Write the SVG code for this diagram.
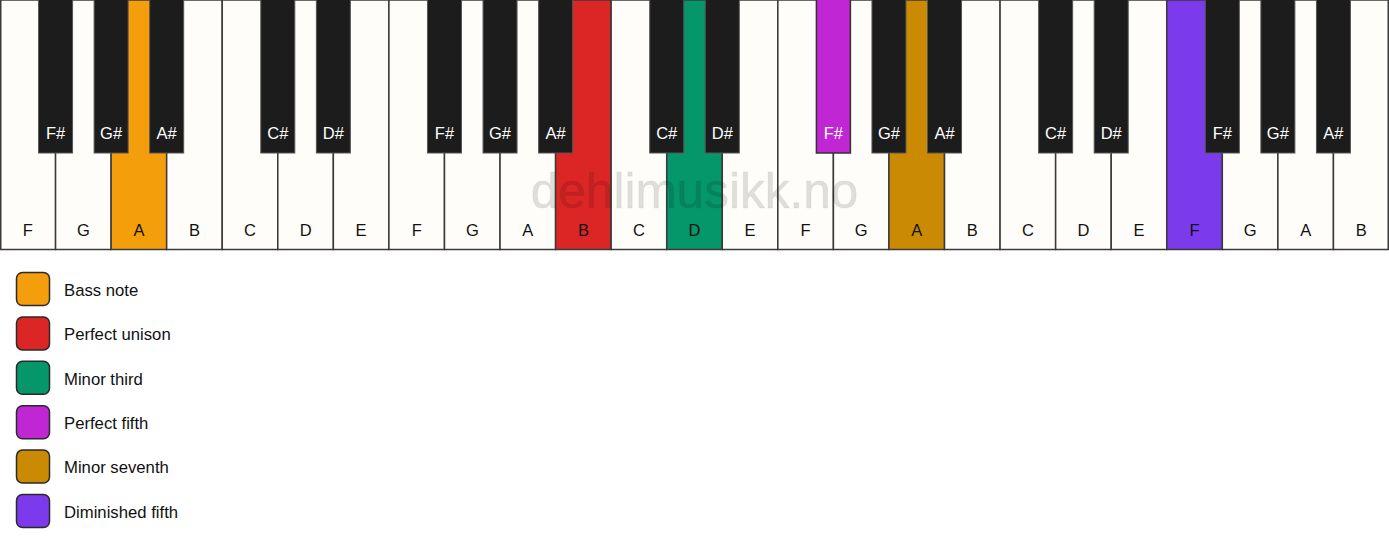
<svg xmlns="http://www.w3.org/2000/svg" width="1389" height="550" viewBox="0 0 1389 550">
<style>
.w{fill:#fffdf9;stroke:#3a3a3a;stroke-width:1.5}
.b{fill:#1c1c1c;stroke:#555;stroke-width:1}
.wl{font-family:"Liberation Sans",Arial,sans-serif;font-size:16.5px;fill:#111;text-anchor:middle}
.bl{font-family:"Liberation Sans",Arial,sans-serif;font-size:16.5px;fill:#fff;text-anchor:middle}
.lg{stroke:#2a2a2a;stroke-width:1.5}
.lt{font-family:"Liberation Sans",Arial,sans-serif;font-size:16.7px;fill:#111}
.wm{font-family:"Liberation Sans",Arial,sans-serif;font-size:49.5px;fill:#000;fill-opacity:0.12;stroke:#000;stroke-opacity:0.05;text-anchor:middle}
</style>
<rect width="1389" height="550" fill="#fff"/>
<g id="white-keys">
<g id="wk0"><rect class="w" x="0.75" y="0" width="54.81" height="249.5"/><text class="wl" x="27.8" y="236">F</text></g>
<g id="wk1"><rect class="w" x="55.56" y="0" width="55.56" height="249.5"/><text class="wl" x="83.3" y="236">G</text></g>
<g id="wk2"><rect class="w" x="111.12" y="0" width="55.56" height="249.5" style="fill:#f59e0b"/><text class="wl" x="138.9" y="236">A</text></g>
<g id="wk3"><rect class="w" x="166.68" y="0" width="55.56" height="249.5"/><text class="wl" x="194.5" y="236">B</text></g>
<g id="wk4"><rect class="w" x="222.24" y="0" width="55.56" height="249.5"/><text class="wl" x="250" y="236">C</text></g>
<g id="wk5"><rect class="w" x="277.8" y="0" width="55.56" height="249.5"/><text class="wl" x="305.6" y="236">D</text></g>
<g id="wk6"><rect class="w" x="333.36" y="0" width="55.56" height="249.5"/><text class="wl" x="361.1" y="236">E</text></g>
<g id="wk7"><rect class="w" x="388.92" y="0" width="55.56" height="249.5"/><text class="wl" x="416.7" y="236">F</text></g>
<g id="wk8"><rect class="w" x="444.48" y="0" width="55.56" height="249.5"/><text class="wl" x="472.3" y="236">G</text></g>
<g id="wk9"><rect class="w" x="500.04" y="0" width="55.56" height="249.5"/><text class="wl" x="527.8" y="236">A</text></g>
<g id="wk10"><rect class="w" x="555.6" y="0" width="55.56" height="249.5" style="fill:#dc2626"/><text class="wl" x="583.4" y="236">B</text></g>
<g id="wk11"><rect class="w" x="611.16" y="0" width="55.56" height="249.5"/><text class="wl" x="638.9" y="236">C</text></g>
<g id="wk12"><rect class="w" x="666.72" y="0" width="55.56" height="249.5" style="fill:#059669"/><text class="wl" x="694.5" y="236">D</text></g>
<g id="wk13"><rect class="w" x="722.28" y="0" width="55.56" height="249.5"/><text class="wl" x="750.1" y="236">E</text></g>
<g id="wk14"><rect class="w" x="777.84" y="0" width="55.56" height="249.5"/><text class="wl" x="805.6" y="236">F</text></g>
<g id="wk15"><rect class="w" x="833.4" y="0" width="55.56" height="249.5"/><text class="wl" x="861.2" y="236">G</text></g>
<g id="wk16"><rect class="w" x="888.96" y="0" width="55.56" height="249.5" style="fill:#ca8a04"/><text class="wl" x="916.7" y="236">A</text></g>
<g id="wk17"><rect class="w" x="944.52" y="0" width="55.56" height="249.5"/><text class="wl" x="972.3" y="236">B</text></g>
<g id="wk18"><rect class="w" x="1000.08" y="0" width="55.56" height="249.5"/><text class="wl" x="1027.9" y="236">C</text></g>
<g id="wk19"><rect class="w" x="1055.64" y="0" width="55.56" height="249.5"/><text class="wl" x="1083.4" y="236">D</text></g>
<g id="wk20"><rect class="w" x="1111.2" y="0" width="55.56" height="249.5"/><text class="wl" x="1139" y="236">E</text></g>
<g id="wk21"><rect class="w" x="1166.76" y="0" width="55.56" height="249.5" style="fill:#7c3aed"/><text class="wl" x="1194.5" y="236">F</text></g>
<g id="wk22"><rect class="w" x="1222.32" y="0" width="55.56" height="249.5"/><text class="wl" x="1250.1" y="236">G</text></g>
<g id="wk23"><rect class="w" x="1277.88" y="0" width="55.56" height="249.5"/><text class="wl" x="1305.7" y="236">A</text></g>
<g id="wk24"><rect class="w" x="1333.44" y="0" width="54.81" height="249.5"/><text class="wl" x="1361.2" y="236">B</text></g>
</g>
<text class="wm" x="694.5" y="208">dehlimusikk.no</text>
<g id="black-keys">
<g id="bk0"><rect class="b" x="38.56" y="-1" width="34" height="154"/><text class="bl" x="55.56" y="139">F#</text></g>
<g id="bk1"><rect class="b" x="94.12" y="-1" width="34" height="154"/><text class="bl" x="111.12" y="139">G#</text></g>
<g id="bk2"><rect class="b" x="149.68" y="-1" width="34" height="154"/><text class="bl" x="166.68" y="139">A#</text></g>
<g id="bk3"><rect class="b" x="260.8" y="-1" width="34" height="154"/><text class="bl" x="277.8" y="139">C#</text></g>
<g id="bk4"><rect class="b" x="316.36" y="-1" width="34" height="154"/><text class="bl" x="333.36" y="139">D#</text></g>
<g id="bk5"><rect class="b" x="427.48" y="-1" width="34" height="154"/><text class="bl" x="444.48" y="139">F#</text></g>
<g id="bk6"><rect class="b" x="483.04" y="-1" width="34" height="154"/><text class="bl" x="500.04" y="139">G#</text></g>
<g id="bk7"><rect class="b" x="538.6" y="-1" width="34" height="154"/><text class="bl" x="555.6" y="139">A#</text></g>
<g id="bk8"><rect class="b" x="649.72" y="-1" width="34" height="154"/><text class="bl" x="666.72" y="139">C#</text></g>
<g id="bk9"><rect class="b" x="705.28" y="-1" width="34" height="154"/><text class="bl" x="722.28" y="139">D#</text></g>
<g id="bk10"><rect class="b" x="816.4" y="-1" width="34" height="154" style="fill:#c026d3;stroke:#333;stroke-width:1.5"/><text class="bl" x="833.4" y="139">F#</text></g>
<g id="bk11"><rect class="b" x="871.96" y="-1" width="34" height="154"/><text class="bl" x="888.96" y="139">G#</text></g>
<g id="bk12"><rect class="b" x="927.52" y="-1" width="34" height="154"/><text class="bl" x="944.52" y="139">A#</text></g>
<g id="bk13"><rect class="b" x="1038.64" y="-1" width="34" height="154"/><text class="bl" x="1055.64" y="139">C#</text></g>
<g id="bk14"><rect class="b" x="1094.2" y="-1" width="34" height="154"/><text class="bl" x="1111.2" y="139">D#</text></g>
<g id="bk15"><rect class="b" x="1205.32" y="-1" width="34" height="154"/><text class="bl" x="1222.32" y="139">F#</text></g>
<g id="bk16"><rect class="b" x="1260.88" y="-1" width="34" height="154"/><text class="bl" x="1277.88" y="139">G#</text></g>
<g id="bk17"><rect class="b" x="1316.44" y="-1" width="34" height="154"/><text class="bl" x="1333.44" y="139">A#</text></g>
</g>
<g id="legend">
<g id="lg0"><rect class="lg" x="16.5" y="272.5" width="33" height="33" rx="6" fill="#f59e0b"/><text class="lt" x="64" y="295.8">Bass note</text></g>
<g id="lg1"><rect class="lg" x="16.5" y="316.9" width="33" height="33" rx="6" fill="#dc2626"/><text class="lt" x="64" y="340.2">Perfect unison</text></g>
<g id="lg2"><rect class="lg" x="16.5" y="361.3" width="33" height="33" rx="6" fill="#059669"/><text class="lt" x="64" y="384.6">Minor third</text></g>
<g id="lg3"><rect class="lg" x="16.5" y="405.7" width="33" height="33" rx="6" fill="#c026d3"/><text class="lt" x="64" y="429">Perfect fifth</text></g>
<g id="lg4"><rect class="lg" x="16.5" y="450.1" width="33" height="33" rx="6" fill="#ca8a04"/><text class="lt" x="64" y="473.4">Minor seventh</text></g>
<g id="lg5"><rect class="lg" x="16.5" y="494.5" width="33" height="33" rx="6" fill="#7c3aed"/><text class="lt" x="64" y="517.8">Diminished fifth</text></g>
</g>
</svg>
